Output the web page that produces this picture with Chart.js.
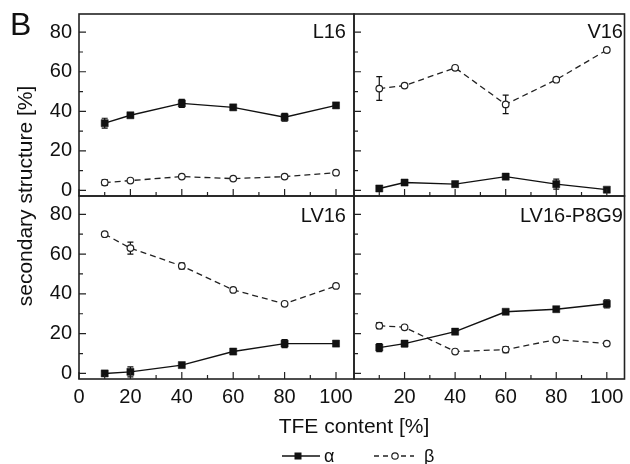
<!DOCTYPE html>
<html>
<head>
<meta charset="utf-8">
<script src="https://cdn.jsdelivr.net/npm/chart.js@4/dist/chart.umd.min.js"></script>
<style>
  body { margin: 0; background: #fff; }
  #wrap { position: relative; width: 630px; height: 464px; font-family: "Liberation Sans", Arial, sans-serif; color: #111; }
  #wrap canvas { position: absolute; left: 0; top: 0; }
  .txt { position: absolute; white-space: nowrap; line-height: 1; }
</style>
</head>
<body>
<div id="wrap">
  <canvas id="cL16" width="630" height="464"></canvas>
  <canvas id="cV16" width="630" height="464"></canvas>
  <canvas id="cLV16" width="630" height="464"></canvas>
  <canvas id="cP8G9" width="630" height="464"></canvas>

  <div class="txt" style="left:10px; top:8px; font-size:32px;">B</div>
  <div class="txt" style="right:284px; top:21px; font-size:20px;">L16</div>
  <div class="txt" style="right:7px; top:21px; font-size:20px;">V16</div>
  <div class="txt" style="right:284px; top:205px; font-size:20px;">LV16</div>
  <div class="txt" style="right:7px; top:205px; font-size:20px;">LV16-P8G9</div>
  <div class="txt" style="left:24px; top:196px; font-size:21px; transform: translate(-50%, -50%) rotate(-90deg);">secondary structure [%]</div>
  <div class="txt" style="left:354px; top:415px; font-size:21px; transform: translateX(-50%);">TFE content [%]</div>

  <svg style="position:absolute; left:0; top:0;" width="630" height="464">
    <line x1="282" y1="456" x2="320" y2="456" stroke="#111" stroke-width="1.4"/>
    <rect x="294.5" y="452.5" width="7" height="7" fill="#111"/>
    <line x1="374" y1="456" x2="414" y2="456" stroke="#222" stroke-width="1.3" stroke-dasharray="5 4"/>
    <circle cx="395" cy="456" r="3.2" fill="#fff" stroke="#222" stroke-width="1.2"/>
    <text x="324" y="462" font-size="18" font-family="Liberation Sans, Arial, sans-serif" fill="#111">α</text>
    <text x="424" y="462" font-size="18" font-family="Liberation Sans, Arial, sans-serif" fill="#111">β</text>
  </svg>
</div>

<script>
// TFE content [%] - x values, the same for every panel
const tfe = [10, 20, 40, 60, 80, 100];

// L16
const l16Alpha = [34, 38, 44, 42, 37, 43];
const l16AlphaErr = [2.5, 0, 2, 0, 2, 0];
const l16Beta = [4, 5, 7, 6, 7, 9];
const l16BetaErr = [1.5, 0, 0, 0, 0, 0];

// V16
const v16Alpha = [1, 4, 3.2, 7, 3.2, 0.4];
const v16AlphaErr = [0, 0, 0, 0, 2.5, 0];
const v16Beta = [51.5, 53, 62, 43.5, 56, 71];
const v16BetaErr = [6, 0, 0, 4.7, 0, 0];

// LV16
const lv16Alpha = [0, 0.8, 4.2, 11, 15, 15];
const lv16AlphaErr = [1, 2.5, 0, 0, 2, 0];
const lv16Beta = [70, 63, 54, 42, 35, 44];
const lv16BetaErr = [0, 3, 1.5, 0, 0, 0];

// LV16-P8G9
const p8g9Alpha = [13, 15, 21, 31, 32.3, 35];
const p8g9AlphaErr = [2, 1.5, 0, 0, 0, 2];
const p8g9Beta = [24, 23.2, 11, 12, 17, 15];
const p8g9BetaErr = [1.5, 0, 0, 1.5, 0, 0];

// axis ticks
const yTicks = [0, 20, 40, 60, 80];
const yMinor = [10, 30, 50, 70];
const xTicksLeft = [0, 20, 40, 60, 80, 100];
const xTicksRight = [20, 40, 60, 80, 100];
const xMinor = [10, 30, 50, 70, 90];

const FONT = "'Liberation Sans', Arial, sans-serif";

// frame, inward ticks and error bars
const panelPlugin = {
  id: 'panel',
  beforeDatasetsDraw(chart, args, opts) {
    const { ctx, scales: { x, y } } = chart;
    ctx.save();
    ctx.strokeStyle = '#111';
    ctx.lineWidth = 1.2;
    chart.data.datasets.forEach((ds, k) => {
      const errs = opts.errors[k];
      ds.data.forEach((p, i) => {
        if (!errs[i]) return;
        const px = x.getPixelForValue(p.x);
        const y1 = y.getPixelForValue(p.y + errs[i]);
        const y2 = y.getPixelForValue(p.y - errs[i]);
        ctx.beginPath();
        ctx.moveTo(px, y1); ctx.lineTo(px, y2);
        ctx.moveTo(px - 3, y1); ctx.lineTo(px + 3, y1);
        ctx.moveTo(px - 3, y2); ctx.lineTo(px + 3, y2);
        ctx.stroke();
      });
    });
    ctx.restore();
  },
  afterDraw(chart, args, opts) {
    const { ctx, chartArea: a, scales: { x, y } } = chart;
    ctx.save();
    ctx.strokeStyle = '#222';
    ctx.lineWidth = 1.2;
    ctx.beginPath();
    const tick = (v, len, horiz) => {
      if (horiz) {
        const px = x.getPixelForValue(v);
        ctx.moveTo(px, a.bottom); ctx.lineTo(px, a.bottom - len);
      } else {
        const py = y.getPixelForValue(v);
        ctx.moveTo(a.left, py); ctx.lineTo(a.left + len, py);
      }
    };
    opts.xMajor.forEach(v => tick(v, 7, true));
    xMinor.forEach(v => tick(v, 4, true));
    yTicks.forEach(v => tick(v, 7, false));
    yMinor.forEach(v => tick(v, 4, false));
    ctx.stroke();
    ctx.lineWidth = 1.6;
    ctx.strokeRect(a.left, a.top, a.right - a.left, a.bottom - a.top);
    ctx.restore();
  }
};

// no extra room for overhanging tick labels, the panels sit at fixed places
function noPad(s) {
  s.paddingTop = 0; s.paddingBottom = 0;
  s.paddingLeft = 0; s.paddingRight = 0;
}

function makePanel(id, alpha, alphaErr, beta, betaErr, place) {
  const left = place.col === 0;
  const bottom = place.row === 1;
  new Chart(document.getElementById(id), {
    type: 'line',
    data: {
      datasets: [
        {
          label: 'α',
          data: tfe.map((t, i) => ({ x: t, y: alpha[i] })),
          borderColor: '#111',
          borderWidth: 1.4,
          pointStyle: 'rect',
          pointRadius: 5,
          pointBackgroundColor: '#111',
          pointBorderColor: '#111',
          pointBorderWidth: 0.5,
          tension: 0
        },
        {
          label: 'β',
          data: tfe.map((t, i) => ({ x: t, y: beta[i] })),
          borderColor: '#222',
          borderWidth: 1.3,
          borderDash: [6, 4],
          pointStyle: 'circle',
          pointRadius: 3.3,
          pointBackgroundColor: '#fff',
          pointBorderColor: '#222',
          pointBorderWidth: 1.2,
          tension: 0
        }
      ]
    },
    options: {
      responsive: false,
      animation: false,
      events: [],
      layout: {
        padding: {
          left: left ? 19 : 354,
          right: left ? 276 : 2,
          top: bottom ? 196 : 14,
          bottom: bottom ? 45 : 268
        }
      },
      scales: {
        x: {
          type: 'linear',
          min: 0,
          max: 107,
          display: bottom,
          grid: { display: false, drawTicks: false },
          border: { display: false },
          afterBuildTicks: s => { s.ticks = (left ? xTicksLeft : xTicksRight).map(v => ({ value: v })); },
          afterFit: s => { s.height = bottom ? 40 : 0; noPad(s); },
          ticks: { font: { family: FONT, size: 20 }, color: '#111', padding: 6, maxRotation: 0 }
        },
        y: {
          min: -2.8,
          max: 89.2,
          display: left,
          grid: { display: false, drawTicks: false },
          border: { display: false },
          afterBuildTicks: s => { s.ticks = yTicks.map(v => ({ value: v })); },
          afterFit: s => { s.width = left ? 60 : 0; noPad(s); },
          ticks: { font: { family: FONT, size: 20 }, color: '#111', padding: 7 }
        }
      },
      plugins: {
        legend: { display: false },
        tooltip: { enabled: false },
        panel: {
          errors: [alphaErr, betaErr],
          xMajor: left ? xTicksLeft : xTicksRight
        }
      }
    },
    plugins: [panelPlugin]
  });
}

makePanel('cL16', l16Alpha, l16AlphaErr, l16Beta, l16BetaErr, { row: 0, col: 0 });
makePanel('cV16', v16Alpha, v16AlphaErr, v16Beta, v16BetaErr, { row: 0, col: 1 });
makePanel('cLV16', lv16Alpha, lv16AlphaErr, lv16Beta, lv16BetaErr, { row: 1, col: 0 });
makePanel('cP8G9', p8g9Alpha, p8g9AlphaErr, p8g9Beta, p8g9BetaErr, { row: 1, col: 1 });
</script>
</body>
</html>
